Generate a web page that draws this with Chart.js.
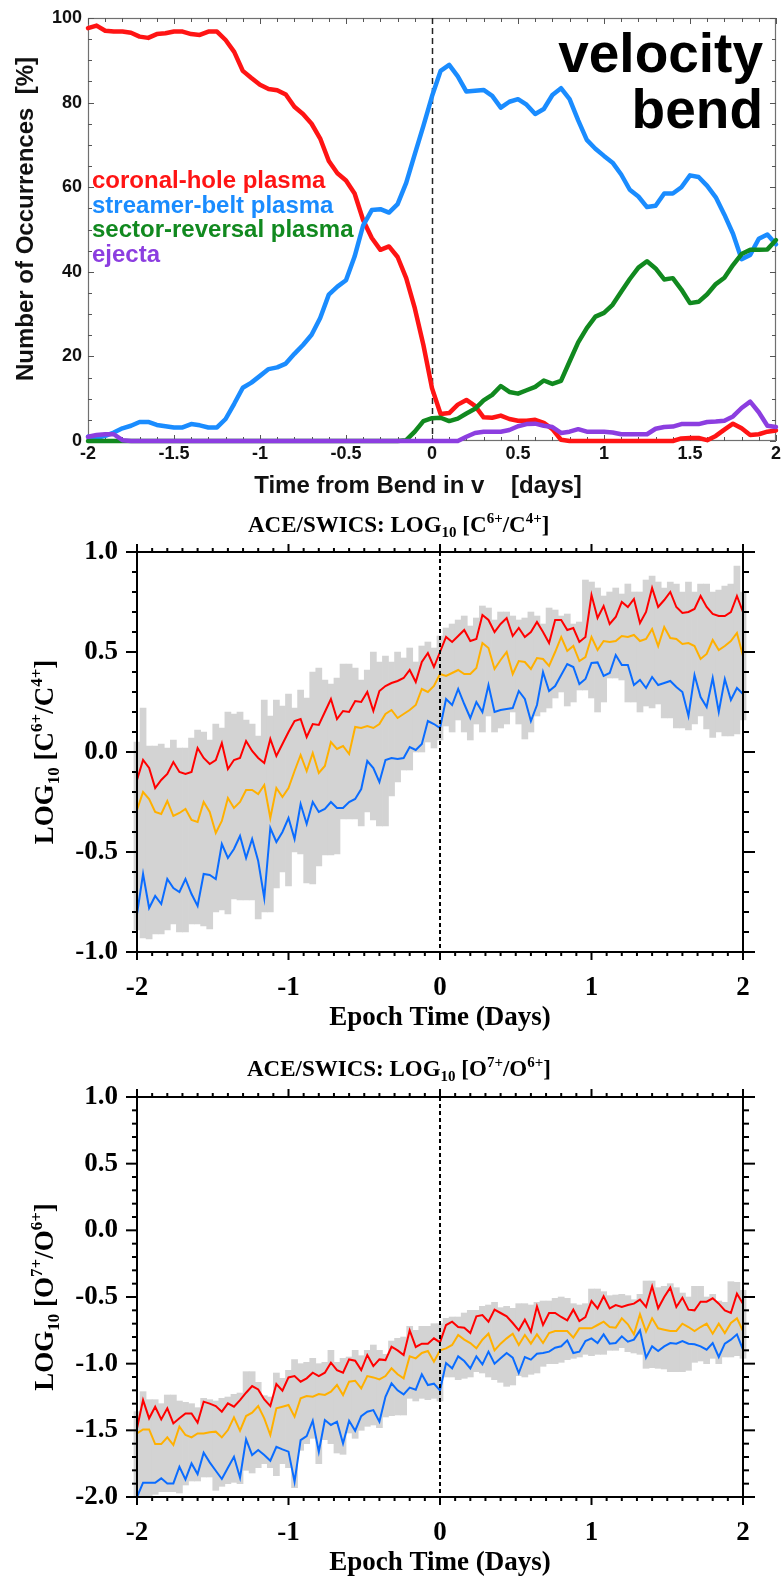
<!DOCTYPE html>
<html><head><meta charset="utf-8">
<script src="https://cdn.jsdelivr.net/npm/chart.js@4.4.1/dist/chart.umd.min.js"></script>
<style>
html,body{margin:0;padding:0;background:#fff;}
body{width:783px;height:1576px;position:relative;overflow:hidden;}
canvas{position:absolute;left:0;display:block;}
#c1{top:0;} #c2{top:505px;} #c3{top:1045px;}
</style></head><body>
<canvas id="c1" width="783" height="505" style="width:783px;height:505px"></canvas>
<canvas id="c2" width="783" height="540" style="width:783px;height:540px"></canvas>
<canvas id="c3" width="783" height="531" style="width:783px;height:531px"></canvas>
<script>
// ---------------- PANEL 1 DATA (percent of occurrences vs time from bend) ----------------
const bendTimes = [-2.00,-1.95,-1.90,-1.85,-1.80,-1.75,-1.70,-1.65,-1.60,-1.55,-1.50,-1.45,-1.40,-1.35,-1.30,-1.25,-1.20,-1.15,-1.10,-1.05,-1.00,-0.95,-0.90,-0.85,-0.80,-0.75,-0.70,-0.65,-0.60,-0.55,-0.50,-0.45,-0.40,-0.35,-0.30,-0.25,-0.20,-0.15,-0.10,-0.05,0.00,0.05,0.10,0.15,0.20,0.25,0.30,0.35,0.40,0.45,0.50,0.55,0.60,0.65,0.70,0.75,0.80,0.85,0.90,0.95,1.00,1.05,1.10,1.15,1.20,1.25,1.30,1.35,1.40,1.45,1.50,1.55,1.60,1.65,1.70,1.75,1.80,1.85,1.90,1.95,2.00];
const coronalHole = [97.6,98.2,97.0,96.8,96.8,96.5,95.6,95.3,96.2,96.4,96.8,96.8,96.2,96.0,96.8,96.8,94.8,92.0,87.5,85.8,84.2,83.2,82.9,81.9,79.0,77.3,75.0,71.5,66.2,63.3,61.6,58.5,52.2,48.0,45.2,46.0,43.5,38.5,31.4,22.7,12.5,6.4,6.6,8.6,9.7,8.3,5.6,5.5,6.0,5.2,4.8,4.8,5.0,4.3,2.8,0.3,0,0,0,0,0,0,0,0,0,0,0,0,0,0.6,0.7,0.7,0.2,1.2,2.7,4.1,3.0,1.4,1.6,2.2,2.5];
const streamerBelt = [1.0,0.7,1.2,2.0,3.0,3.6,4.5,4.5,3.8,3.5,3.2,3.2,4.0,3.7,3.2,3.2,5.2,8.8,12.6,13.8,15.4,17.0,17.4,18.3,20.6,22.7,25.1,29.1,34.6,36.5,38.0,43.6,51.0,54.6,54.8,54.0,56.0,61.0,67.8,74.5,81.5,87.5,88.9,86.2,82.6,82.8,83.0,81.6,78.8,80.2,80.8,79.5,77.3,78.5,81.8,83.4,80.8,75.8,71.2,69.1,67.4,65.8,63.0,59.4,57.8,55.3,55.6,58.5,58.5,60.0,62.8,62.4,60.3,57.6,53.5,49.0,43.0,44.0,47.8,48.8,46.5];
const sectorReversal = [0,0,0,0,0,0,0,0,0,0,0,0,0,0,0,0,0,0,0,0,0,0,0,0,0,0,0,0,0,0,0,0,0,0,0,0,0,0.2,2.2,4.7,5.4,5.5,4.7,5.3,6.5,7.6,9.6,10.9,13.0,11.6,11.2,12.0,12.8,14.3,13.5,14.2,18.8,23.3,26.7,29.4,30.3,32.2,35.3,38.3,41.0,42.5,40.8,38.2,38.5,35.8,32.6,32.9,34.7,37.1,38.6,41.6,44.2,45.2,45.2,45.3,47.5];
const ejecta = [1.0,1.4,1.6,1.6,0.2,0,0,0,0,0,0,0,0,0,0,0,0,0,0,0,0,0,0,0,0,0,0,0,0,0,0,0,0,0,0,0,0,0,0,0,0,0,0,0,1.0,1.9,2.2,2.2,2.2,2.6,3.5,4.0,4.1,3.6,3.3,1.9,2.2,2.8,2.2,2.2,2.2,2.0,1.6,1.6,1.6,1.6,2.9,3.3,3.4,4.0,4.0,4.0,4.5,4.6,4.8,5.8,7.8,9.3,6.8,3.6,3.3];
const bendLegend = ['coronal-hole plasma','streamer-belt plasma','sector-reversal plasma','ejecta'];
const bendColors = ['#ff1414','#1a8cff','#11891f','#8c3ee0'];
const bendXTicks = [-2,-1.5,-1,-0.5,0,0.5,1,1.5,2];
const bendXLabels = ['-2','-1.5','-1','-0.5','0','0.5','1','1.5','2'];
const bendYTicks = [0,20,40,60,80,100];
const bendYLabels = ['0','20','40','60','80','100'];
const bendXTitle = 'Time from Bend in v    [days]';
const bendYTitle = 'Number of Occurrences  [%]';
const bendTag = ['velocity','bend'];

// ---------------- PANELS 2 & 3 DATA (epoch analysis) ----------------
const epochTimes = [-2.00,-1.96,-1.92,-1.88,-1.84,-1.80,-1.76,-1.72,-1.68,-1.64,-1.60,-1.56,-1.52,-1.48,-1.44,-1.40,-1.36,-1.32,-1.28,-1.24,-1.20,-1.16,-1.12,-1.08,-1.04,-1.00,-0.96,-0.92,-0.88,-0.84,-0.80,-0.76,-0.72,-0.68,-0.64,-0.60,-0.56,-0.52,-0.48,-0.44,-0.40,-0.36,-0.32,-0.28,-0.24,-0.20,-0.16,-0.12,-0.08,-0.04,0.00,0.04,0.08,0.12,0.16,0.20,0.24,0.28,0.32,0.36,0.40,0.44,0.48,0.52,0.56,0.60,0.64,0.68,0.72,0.76,0.80,0.84,0.88,0.92,0.96,1.00,1.04,1.08,1.12,1.16,1.20,1.24,1.28,1.32,1.36,1.40,1.44,1.48,1.52,1.56,1.60,1.64,1.68,1.72,1.76,1.80,1.84,1.88,1.92,1.96,2.00];
const epochXTicks = [-2,-1,0,1,2];
const epochXLabels = ['-2','-1','0','1','2'];
const epochXTitle = 'Epoch Time (Days)';

// C6+/C4+
const c64Upper = [-0.14,-0.04,-0.08,-0.18,-0.14,-0.11,-0.05,-0.10,-0.11,-0.10,0.02,-0.03,-0.06,-0.04,0.045,-0.085,-0.04,-0.03,0.055,0.005,-0.03,-0.055,0.065,-0.02,0.04,0.10,0.155,0.165,0.075,0.14,0.135,0.20,0.265,0.165,0.205,0.20,0.255,0.25,0.30,0.205,0.305,0.33,0.345,0.355,0.37,0.41,0.35,0.45,0.495,0.425,0.50,0.575,0.55,0.58,0.61,0.555,0.565,0.685,0.66,0.60,0.64,0.67,0.58,0.62,0.575,0.60,0.65,0.60,0.545,0.66,0.66,0.61,0.62,0.55,0.575,0.785,0.67,0.73,0.64,0.675,0.75,0.725,0.765,0.645,0.70,0.82,0.725,0.76,0.80,0.725,0.695,0.70,0.715,0.78,0.725,0.69,0.68,0.68,0.70,0.78,0.70];
const c64Median = [-0.29,-0.20,-0.235,-0.30,-0.31,-0.245,-0.32,-0.305,-0.285,-0.34,-0.35,-0.25,-0.30,-0.405,-0.345,-0.23,-0.28,-0.25,-0.19,-0.19,-0.21,-0.165,-0.33,-0.18,-0.225,-0.18,-0.095,-0.015,-0.095,-0.005,-0.105,-0.07,0.05,0.015,0.03,-0.01,0.125,0.12,0.13,0.12,0.14,0.19,0.21,0.17,0.19,0.21,0.235,0.315,0.30,0.33,0.39,0.38,0.395,0.41,0.39,0.39,0.42,0.545,0.52,0.415,0.46,0.50,0.39,0.455,0.45,0.415,0.47,0.465,0.43,0.50,0.575,0.505,0.53,0.455,0.475,0.575,0.51,0.555,0.55,0.555,0.58,0.575,0.585,0.555,0.565,0.615,0.53,0.625,0.57,0.565,0.54,0.545,0.53,0.465,0.49,0.56,0.51,0.53,0.555,0.595,0.48];
const c64Lower = [-0.81,-0.61,-0.78,-0.72,-0.76,-0.635,-0.68,-0.70,-0.635,-0.71,-0.77,-0.61,-0.615,-0.635,-0.46,-0.53,-0.485,-0.42,-0.53,-0.435,-0.545,-0.73,-0.38,-0.45,-0.40,-0.33,-0.435,-0.26,-0.36,-0.25,-0.30,-0.285,-0.25,-0.28,-0.28,-0.25,-0.235,-0.185,-0.045,-0.08,-0.15,-0.04,-0.03,-0.035,-0.03,0.025,0.01,0.04,0.155,0.14,0.12,0.265,0.235,0.315,0.24,0.17,0.25,0.20,0.335,0.20,0.21,0.215,0.22,0.305,0.265,0.155,0.235,0.40,0.305,0.33,0.385,0.44,0.425,0.34,0.365,0.445,0.448,0.38,0.395,0.485,0.435,0.435,0.335,0.36,0.32,0.375,0.335,0.345,0.355,0.325,0.30,0.18,0.385,0.275,0.225,0.37,0.20,0.365,0.26,0.32,0.29];
const c64High = [0.05,0.22,0.03,0.03,0.04,0.02,0.06,0.02,0.02,0.07,0.11,0.10,0.06,0.14,0.12,0.20,0.19,0.20,0.16,0.14,0.08,0.26,0.18,0.26,0.23,0.29,0.22,0.31,0.27,0.40,0.42,0.36,0.34,0.37,0.44,0.44,0.42,0.36,0.41,0.50,0.45,0.48,0.45,0.50,0.47,0.52,0.45,0.53,0.55,0.52,0.58,0.62,0.64,0.66,0.68,0.63,0.67,0.73,0.72,0.66,0.70,0.70,0.68,0.66,0.67,0.70,0.68,0.64,0.72,0.71,0.68,0.69,0.64,0.65,0.86,0.85,0.82,0.78,0.80,0.82,0.79,0.84,0.80,0.80,0.86,0.88,0.85,0.82,0.85,0.84,0.80,0.85,0.80,0.84,0.84,0.80,0.81,0.83,0.84,0.93,0.80];
const c64Low = [-0.89,-0.93,-0.935,-0.91,-0.91,-0.89,-0.86,-0.90,-0.90,-0.86,-0.86,-0.87,-0.885,-0.80,-0.79,-0.81,-0.735,-0.74,-0.74,-0.74,-0.835,-0.80,-0.80,-0.68,-0.60,-0.67,-0.50,-0.51,-0.655,-0.66,-0.57,-0.515,-0.515,-0.51,-0.335,-0.335,-0.335,-0.37,-0.30,-0.34,-0.37,-0.37,-0.22,-0.15,-0.09,-0.09,0.0,0.0,0.05,0.02,0.06,0.13,0.10,0.16,0.10,0.06,0.14,0.10,0.18,0.10,0.12,0.14,0.20,0.14,0.065,0.10,0.18,0.20,0.22,0.27,0.30,0.23,0.25,0.31,0.31,0.27,0.20,0.25,0.37,0.37,0.36,0.25,0.25,0.20,0.23,0.22,0.24,0.17,0.17,0.12,0.12,0.11,0.14,0.18,0.115,0.073,0.10,0.08,0.08,0.09,0.16];
const c64YTicks = [-1,-0.5,0,0.5,1];
const c64YLabels = ['-1.0','-0.5','0.0','0.5','1.0'];
const c64Title = [['ACE/SWICS: LOG',''],['10','sub'],[' [C',''],['6+','sup'],['/C',''],['4+','sup'],[']','']];
const c64YTitle = [['LOG',''],['10','sub'],[' [C',''],['6+','sup'],['/C',''],['4+','sup'],[']','']];

// O7+/O6+
const o76Upper = [-1.485,-1.273,-1.41,-1.323,-1.418,-1.335,-1.448,-1.41,-1.373,-1.373,-1.443,-1.285,-1.30,-1.318,-1.36,-1.298,-1.323,-1.273,-1.218,-1.168,-1.193,-1.268,-1.318,-1.153,-1.203,-1.103,-1.093,-1.135,-1.11,-1.068,-1.093,-1.068,-0.993,-1.048,-1.068,-0.968,-0.978,-1.048,-0.935,-1.018,-0.968,-0.973,-0.873,-0.90,-0.935,-0.75,-0.875,-0.85,-0.85,-0.81,-0.84,-0.71,-0.685,-0.725,-0.73,-0.77,-0.645,-0.635,-0.685,-0.595,-0.62,-0.645,-0.695,-0.75,-0.67,-0.76,-0.57,-0.71,-0.62,-0.62,-0.65,-0.675,-0.595,-0.68,-0.65,-0.53,-0.585,-0.495,-0.585,-0.56,-0.575,-0.56,-0.55,-0.52,-0.575,-0.42,-0.585,-0.50,-0.43,-0.575,-0.505,-0.595,-0.60,-0.535,-0.535,-0.51,-0.55,-0.60,-0.62,-0.475,-0.55];
const o76Median = [-1.523,-1.493,-1.493,-1.603,-1.603,-1.553,-1.61,-1.473,-1.535,-1.553,-1.523,-1.523,-1.515,-1.51,-1.553,-1.498,-1.403,-1.503,-1.393,-1.368,-1.318,-1.41,-1.535,-1.335,-1.323,-1.31,-1.398,-1.26,-1.243,-1.248,-1.228,-1.235,-1.21,-1.16,-1.235,-1.135,-1.128,-1.185,-1.093,-1.103,-1.118,-1.093,-1.035,-1.08,-1.11,-0.945,-0.96,-0.92,-0.905,-0.985,-0.90,-0.885,-0.86,-0.785,-0.82,-0.845,-0.885,-0.82,-0.775,-0.90,-0.85,-0.81,-0.775,-0.86,-0.785,-0.85,-0.78,-0.845,-0.77,-0.755,-0.755,-0.755,-0.805,-0.735,-0.735,-0.735,-0.71,-0.685,-0.725,-0.73,-0.66,-0.705,-0.78,-0.63,-0.76,-0.66,-0.735,-0.745,-0.755,-0.755,-0.70,-0.725,-0.755,-0.725,-0.70,-0.775,-0.70,-0.77,-0.695,-0.66,-0.755];
const o76Lower = [-2.0,-1.893,-1.893,-1.893,-1.86,-1.898,-1.898,-1.773,-1.868,-1.748,-1.828,-1.668,-1.74,-1.803,-1.865,-1.78,-1.698,-1.855,-1.568,-1.685,-1.648,-1.685,-1.728,-1.623,-1.643,-1.66,-1.885,-1.573,-1.543,-1.428,-1.66,-1.423,-1.46,-1.435,-1.598,-1.428,-1.503,-1.393,-1.36,-1.348,-1.435,-1.248,-1.148,-1.20,-1.23,-1.18,-1.195,-1.08,-1.16,-1.15,-1.20,-0.995,-1.035,-0.945,-0.98,-1.035,-0.945,-1.005,-0.91,-1.0,-0.96,-0.92,-0.955,-1.07,-0.95,-0.97,-0.925,-0.92,-0.91,-0.88,-0.87,-0.825,-0.92,-0.91,-0.83,-0.81,-0.845,-0.78,-0.85,-0.845,-0.795,-0.835,-0.82,-0.75,-0.955,-0.87,-0.905,-0.87,-0.845,-0.85,-0.83,-0.85,-0.855,-0.87,-0.895,-0.845,-0.95,-0.85,-0.82,-0.78,-0.895];
const o76High = [-1.36,-1.21,-1.27,-1.27,-1.30,-1.235,-1.235,-1.28,-1.29,-1.30,-1.33,-1.26,-1.27,-1.28,-1.26,-1.25,-1.23,-1.22,-1.06,-1.06,-1.14,-1.24,-1.25,-1.07,-1.11,-1.05,-0.97,-1.0,-0.99,-0.96,-1.0,-0.99,-0.90,-0.99,-0.96,-0.95,-0.90,-0.94,-0.90,-0.86,-0.90,-0.93,-0.83,-0.81,-0.80,-0.72,-0.75,-0.72,-0.72,-0.70,-0.70,-0.66,-0.65,-0.65,-0.62,-0.60,-0.60,-0.57,-0.56,-0.54,-0.58,-0.57,-0.585,-0.55,-0.55,-0.56,-0.54,-0.53,-0.53,-0.51,-0.50,-0.51,-0.55,-0.56,-0.55,-0.44,-0.44,-0.46,-0.49,-0.485,-0.48,-0.49,-0.52,-0.48,-0.38,-0.38,-0.43,-0.42,-0.40,-0.43,-0.47,-0.50,-0.42,-0.42,-0.50,-0.48,-0.53,-0.54,-0.385,-0.39,-0.45];
const o76Low = [-2.02,-2.02,-1.99,-1.98,-1.96,-1.96,-1.96,-1.97,-1.91,-1.88,-1.88,-1.85,-1.85,-1.95,-1.92,-1.90,-1.89,-1.90,-1.80,-1.82,-1.78,-1.75,-1.78,-1.84,-1.75,-1.78,-1.93,-1.65,-1.60,-1.56,-1.75,-1.57,-1.60,-1.67,-1.68,-1.52,-1.56,-1.50,-1.47,-1.46,-1.48,-1.40,-1.39,-1.385,-1.385,-1.26,-1.28,-1.26,-1.27,-1.26,-1.28,-1.10,-1.10,-1.12,-1.11,-1.10,-1.06,-1.07,-1.10,-1.12,-1.14,-1.17,-1.16,-1.09,-1.10,-1.08,-1.07,-1.02,-1.00,-1.0,-0.99,-0.97,-0.96,-0.95,-0.93,-0.94,-0.93,-0.93,-0.90,-0.90,-0.88,-0.91,-0.92,-0.93,-1.035,-1.03,-1.035,-1.04,-1.06,-1.06,-1.06,-1.05,-0.99,-0.98,-1.00,-0.96,-1.0,-0.95,-0.95,-0.94,-0.96];
const o76YTicks = [-2,-1.5,-1,-0.5,0,0.5,1];
const o76YLabels = ['-2.0','-1.5','-1.0','-0.5','0.0','0.5','1.0'];
const o76Title = [['ACE/SWICS: LOG',''],['10','sub'],[' [O',''],['7+','sup'],['/O',''],['6+','sup'],[']','']];
const o76YTitle = [['LOG',''],['10','sub'],[' [O',''],['7+','sup'],['/O',''],['6+','sup'],[']','']];

const epochColors = {upper:'#ff0000', median:'#ffb000', lower:'#0a6cff', band:'#d3d3d3'};

// ---------------- helpers ----------------
const SANS = '"Liberation Sans", Arial, Helvetica, sans-serif';
const SERIF = '"Liberation Serif", "Times New Roman", Times, serif';
function pts(xs, ys){ return xs.map((t,i)=>({x:t, y:ys[i]})); }
function bandPts(xs, lo, hi){ return xs.map((t,i)=>({x:t, y:[lo[i], hi[i]]})); }
function drawRich(ctx, segs, x, y, o){
  let w = 0;
  for (const s of segs){ ctx.font = 'bold ' + (s[1] ? o.small : o.big) + 'px ' + o.family; w += ctx.measureText(s[0]).width; }
  let cx = o.align === 'center' ? x - w/2 : x;
  ctx.textAlign = 'left'; ctx.textBaseline = 'alphabetic'; ctx.fillStyle = o.color || '#000';
  for (const s of segs){
    ctx.font = 'bold ' + (s[1] ? o.small : o.big) + 'px ' + o.family;
    const dy = s[1] === 'sub' ? o.subDy : (s[1] === 'sup' ? -o.supDy : 0);
    ctx.fillText(s[0], cx, y + dy);
    cx += ctx.measureText(s[0]).width;
  }
}
function seg(ctx, x1, y1, x2, y2){ ctx.beginPath(); ctx.moveTo(x1,y1); ctx.lineTo(x2,y2); ctx.stroke(); }
function fixedTicks(vals){ return s => { s.ticks = vals.map(v => ({value: v})); }; }

// ---------------- PANEL 1 ----------------
const bendDecor = {
  id: 'bendDecor',
  beforeDatasetsDraw(chart){
    const {ctx, chartArea: a, scales: {x, y}} = chart;
    ctx.save();
    ctx.strokeStyle = '#707070'; ctx.lineWidth = 1.2;
    ctx.strokeRect(a.left + 0.5, a.top + 0.5, a.right - a.left - 1, a.bottom - a.top - 1);
    ctx.strokeStyle = '#555'; ctx.lineWidth = 1;
    for (let v = 0; v <= 100.01; v += 5){
      const py = Math.round(y.getPixelForValue(v)) + 0.5;
      const L = (Math.round(v) % 20 === 0) ? 6 : 4;
      seg(ctx, a.left, py, a.left + L, py);
      seg(ctx, a.right, py, a.right - L, py);
    }
    for (let i = 0; i <= 40; i++){
      const v = -2 + i * 0.1;
      const px = Math.round(x.getPixelForValue(v)) + 0.5;
      const L = (i % 5 === 0) ? 6 : 4;
      seg(ctx, px, a.top, px, a.top + L);
      seg(ctx, px, a.bottom, px, a.bottom - L);
    }
    const x0 = Math.round(x.getPixelForValue(0)) + 0.5;
    ctx.strokeStyle = '#222'; ctx.lineWidth = 1.5; ctx.setLineDash([6, 4]);
    seg(ctx, x0, a.top, x0, a.bottom);
    ctx.restore();
  },
  afterDraw(chart){
    const {ctx} = chart;
    ctx.save();
    ctx.fillStyle = '#111';
    ctx.font = 'bold 24px ' + SANS; ctx.textAlign = 'center'; ctx.textBaseline = 'alphabetic';
    ctx.fillText(bendXTitle, 418, 493);
    ctx.save(); ctx.translate(33, 219); ctx.rotate(-Math.PI/2);
    ctx.fillText(bendYTitle, 0, 0); ctx.restore();
    ctx.textAlign = 'left';
    const bl = [188, 213, 237, 262];
    bendLegend.forEach((t, i) => { ctx.fillStyle = bendColors[i]; ctx.fillText(t, 92, bl[i]); });
    ctx.fillStyle = '#000'; ctx.font = 'bold 55px ' + SANS; ctx.textAlign = 'right';
    ctx.fillText(bendTag[0], 763, 72);
    ctx.fillText(bendTag[1], 763, 128);
    ctx.restore();
  }
};
function bendSet(label, vals, color, order){
  return {label, data: pts(bendTimes, vals), borderColor: color, backgroundColor: color, borderWidth: 4.5,
    pointRadius: 0, tension: 0, borderJoinStyle: 'round', borderCapStyle: 'round', clip: 6, order};
}
new Chart(document.getElementById('c1'), {
  type: 'line',
  data: { datasets: [
    bendSet(bendLegend[0], coronalHole, bendColors[0], 4),
    bendSet(bendLegend[1], streamerBelt, bendColors[1], 3),
    bendSet(bendLegend[2], sectorReversal, bendColors[2], 2),
    bendSet(bendLegend[3], ejecta, bendColors[3], 1)
  ]},
  options: {
    responsive: false, animation: false, devicePixelRatio: 1,
    layout: { padding: { top: 18, right: 7, bottom: 4, left: 0 } },
    plugins: { legend: {display: false}, tooltip: {enabled: false} },
    scales: {
      x: { type: 'linear', min: -2, max: 2, offset: false, afterBuildTicks: fixedTicks(bendXTicks),
        ticks: { callback: (v, i) => bendXLabels[i], font: {family: SANS, weight: 'bold', size: 18}, color: '#111', padding: 2, maxRotation: 0, autoSkip: false },
        grid: {display: false, drawTicks: false}, border: {display: false}, afterFit: s => { s.height = 60; } },
      y: { type: 'linear', min: 0, max: 100, afterBuildTicks: fixedTicks(bendYTicks),
        ticks: { callback: (v, i) => bendYLabels[i], font: {family: SANS, weight: 'bold', size: 18}, color: '#111', padding: 6, autoSkip: false },
        grid: {display: false, drawTicks: false}, border: {display: false}, afterFit: s => { s.width = 88; } }
    }
  },
  plugins: [bendDecor]
});

// ---------------- PANELS 2 & 3 ----------------
function idlDecor(title, titleX, titleY, yTitle, xTitleY){
  return {
    id: 'idlDecor',
    afterDatasetsDraw(chart){
      const {ctx, chartArea: a, scales: {x, y}} = chart;
      ctx.save();
      ctx.strokeStyle = '#000';
      const x0 = x.getPixelForValue(0);
      ctx.lineWidth = 2; ctx.setLineDash([4, 3]);
      seg(ctx, x0, a.top, x0, a.bottom);
      ctx.setLineDash([]);
      ctx.strokeRect(a.left, a.top, a.right - a.left, a.bottom - a.top);
      for (let i = 0; i <= 40; i++){
        const px = x.getPixelForValue(-2 + i * 0.1);
        const L = (i % 10 === 0) ? 8 : 4;
        seg(ctx, px, a.bottom, px, a.bottom + L);
        seg(ctx, px, a.top, px, a.top - L);
      }
      const n = Math.round((y.max - y.min) / 0.1);
      for (let i = 0; i <= n; i++){
        const py = y.getPixelForValue(y.min + i * 0.1);
        const major = (i % 5 === 0);
        seg(ctx, a.left, py, a.left - (major ? 11 : 5), py);
        seg(ctx, a.right, py, a.right + (major ? 12 : 6), py);
      }
      ctx.restore();
    },
    afterDraw(chart){
      const {ctx, chartArea: a} = chart;
      ctx.save();
      drawRich(ctx, title, titleX, titleY, {big: 23, small: 15, family: SERIF, subDy: 5, supDy: 9, align: 'left'});
      ctx.fillStyle = '#000'; ctx.font = 'bold 27px ' + SERIF; ctx.textAlign = 'center'; ctx.textBaseline = 'alphabetic';
      ctx.fillText(epochXTitle, (a.left + a.right) / 2, xTitleY);
      ctx.translate(53, (a.top + a.bottom) / 2); ctx.rotate(-Math.PI / 2);
      drawRich(ctx, yTitle, 0, 0, {big: 27, small: 17, family: SERIF, subDy: 6, supDy: 11, align: 'center'});
      ctx.restore();
    }
  };
}
function epochChart(id, padTop, padBottom, yMin, yMax, yTicks, yLabels, hi, lo, up, med, low, decor){
  const lineSet = (label, vals, color, order) => ({label, data: pts(epochTimes, vals), borderColor: color, borderWidth: 2,
    pointRadius: 0, tension: 0, borderJoinStyle: 'miter', order, clip: 2});
  new Chart(document.getElementById(id), {
    type: 'line',
    data: { datasets: [
      lineSet('upper', up, epochColors.upper, 1),
      lineSet('median', med, epochColors.median, 2),
      lineSet('lower', low, epochColors.lower, 3),
      { type: 'bar', label: 'range', data: bandPts(epochTimes, lo, hi), backgroundColor: epochColors.band,
        borderWidth: 0, barPercentage: 1, categoryPercentage: 1, order: 9, clip: {left: 4, right: 4, top: 0, bottom: 0} }
    ]},
    options: {
      responsive: false, animation: false, devicePixelRatio: 1,
      layout: { padding: { top: padTop, right: 40, bottom: padBottom, left: 0 } },
      plugins: { legend: {display: false}, tooltip: {enabled: false} },
      scales: {
        x: { type: 'linear', min: -2, max: 2, offset: false, afterBuildTicks: fixedTicks(epochXTicks),
          ticks: { callback: (v, i) => epochXLabels[i], font: {family: SERIF, weight: 'bold', size: 27}, color: '#000', padding: 20, maxRotation: 0, autoSkip: false },
          grid: {display: false, drawTicks: false}, border: {display: false}, afterFit: s => { s.height = 60; } },
        y: { type: 'linear', min: yMin, max: yMax, afterBuildTicks: fixedTicks(yTicks),
          ticks: { callback: (v, i) => yLabels[i], font: {family: SERIF, weight: 'bold', size: 27}, color: '#000', padding: 19, autoSkip: false },
          grid: {display: false, drawTicks: false}, border: {display: false}, afterFit: s => { s.width = 137; } }
      }
    },
    plugins: [decor]
  });
}
epochChart('c2', 47, 33, -1, 1, c64YTicks, c64YLabels, c64High, c64Low, c64Upper, c64Median, c64Lower,
  idlDecor(c64Title, 248, 27, c64YTitle, 520));
epochChart('c3', 52, 19, -2, 1, o76YTicks, o76YLabels, o76High, o76Low, o76Upper, o76Median, o76Lower,
  idlDecor(o76Title, 247, 31, o76YTitle, 525));
</script>
</body></html>
